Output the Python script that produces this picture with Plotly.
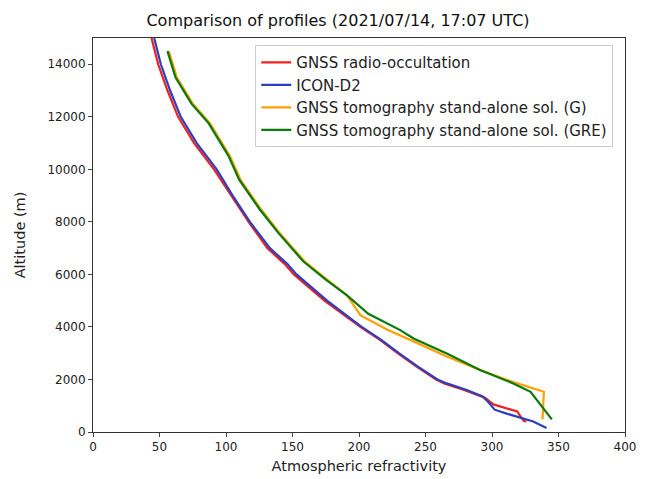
import plotly.graph_objects as go

# Data (refractivity vs altitude in m)
ro_alt = [15000, 14000, 13000, 12000, 11000, 10000, 9000, 8000, 7000, 6400, 6000, 5000, 4000, 3500, 3000, 2500, 2000, 1850, 1600, 1300, 1050, 850, 780, 550, 420, 400]
ro_ref = [44, 49, 56, 64, 76, 91, 104, 117, 131, 144, 151, 174, 201, 216, 229, 243, 258, 264, 279, 295, 301, 315, 319, 322, 324, 326]

icon_alt = [15000, 14000, 13000, 12000, 11000, 10000, 9000, 8000, 7000, 6400, 6000, 5000, 4000, 3500, 3000, 2500, 2000, 1850, 1600, 1350, 1150, 850, 700, 550, 400, 150]
icon_ref = [46, 51, 58, 66, 78, 93, 105, 118, 133, 146, 153, 176, 202, 217, 230, 244, 259, 266, 281, 293, 297, 302, 311, 321, 331, 341]

tomo_g_alt = [14500, 13500, 12500, 11750, 11000, 10500, 9600, 8500, 7600, 6500, 5800, 5200, 4450, 3900, 3450, 2870, 2360, 1900, 1530, 480]
tomo_g_ref = [57, 63, 75, 88, 97, 103, 111, 126, 140, 159, 176, 191, 201, 221, 241, 266, 291, 316, 339, 338]

tomo_gre_alt = [14500, 13500, 12500, 11750, 11000, 10500, 9600, 8500, 7600, 6500, 5800, 5200, 4500, 3880, 3560, 2990, 2360, 1850, 1530, 480]
tomo_gre_ref = [56, 62, 74, 87, 96, 102, 110, 125, 139, 158, 175, 191, 207, 231, 241, 266, 291, 316, 329, 345]

x_ticks = [0, 50, 100, 150, 200, 250, 300, 350, 400]
y_ticks = [0, 2000, 4000, 6000, 8000, 10000, 12000, 14000]
y_tick_labels = ["0", "2000", "4000", "6000", "8000", "10000", "12000", "14000"]

series = [
    ("GNSS radio-occultation", ro_ref, ro_alt, "#ee2020"),
    ("ICON-D2", icon_ref, icon_alt, "#2c3fbf"),
    ("GNSS tomography stand-alone sol. (G)", tomo_g_ref, tomo_g_alt, "#ffa000"),
    ("GNSS tomography stand-alone sol. (GRE)", tomo_gre_ref, tomo_gre_alt, "#0a7a0a"),
]

fig = go.Figure()
for i, (name, xs, ys, col) in enumerate(series):
    fig.add_trace(go.Scatter(x=xs, y=ys, mode="lines", name=name, legendgroup=f"g{i}",
                             line=dict(color=col, width=2.2)))

font = "DejaVu Sans, sans-serif"
fig.update_layout(
    width=650, height=479,
    margin=dict(l=93, r=25, t=38, b=47),
    paper_bgcolor="white", plot_bgcolor="white",
    font=dict(family=font, size=12, color="#222"),
    title=dict(text="Comparison of profiles (2021/07/14, 17:07 UTC)",
               xref="container", x=0.52, xanchor="center",
               yref="container", y=0.958, yanchor="middle", font=dict(size=16, color="#111")),
    showlegend=True,
    legend=dict(x=0.305, y=0.982, xanchor="left", yanchor="top",
                bgcolor="rgba(255,255,255,0.9)", bordercolor="#cccccc", borderwidth=1,
                font=dict(size=15, color="#222"), tracegroupgap=0),
)
fig.update_xaxes(range=[0, 400], tickvals=x_ticks, ticks="outside", ticklen=4,
                 showline=True, linecolor="#333", linewidth=1, mirror=True,
                 showgrid=False, zeroline=False, automargin=False,
                 title=dict(text="Atmospheric refractivity", standoff=7, font=dict(size=14.5)))
fig.update_yaxes(range=[0, 15000], tickvals=y_ticks, ticktext=y_tick_labels,
                 ticks="outside", ticklen=4,
                 showline=True, linecolor="#333", linewidth=1, mirror=True,
                 showgrid=False, zeroline=False, automargin=False,
                 title=dict(text="Altitude (m)", standoff=18, font=dict(size=14.5)))

fig.write_html("out.html", config={"displayModeBar": False},
               post_script="document.body.style.margin='0';document.body.style.overflow='hidden';")
